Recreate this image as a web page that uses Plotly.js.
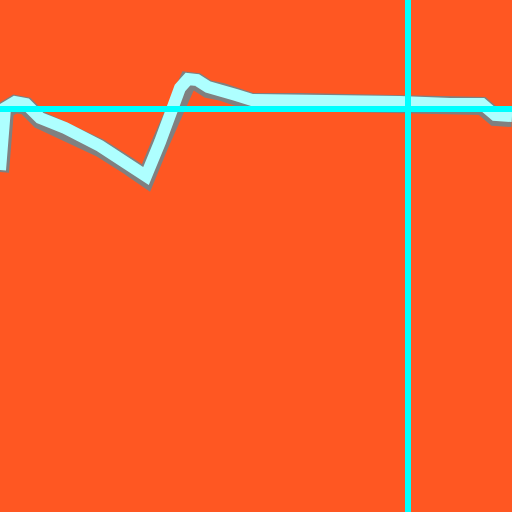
<!DOCTYPE html>
<html><head><meta charset="utf-8">
<script src="https://cdn.plot.ly/plotly-3.0.1.min.js"></script>
<style>html,body{margin:0;padding:0;background:#FF5722;}#chart{width:512px;height:512px;}</style>
</head><body><div id="chart"></div>
<script>
const xs = [0, 5, 15, 26, 40, 65, 100, 130, 146, 160, 170, 180, 188, 197, 208, 222, 236, 252, 300, 400, 450, 482, 495, 512];
const ys = [170, 108, 102, 104, 118, 128, 146, 165, 176, 142, 115, 88, 79, 80, 87, 90, 95, 100, 100, 102, 104, 104, 115, 116];
const hLineY = 109;
const vLineX = 408;

const traces = [
  {x: xs, y: ys.map(v => v + 2), mode: 'lines', line: {color: '#808080', width: 18}, hoverinfo: 'skip'},
  {x: xs, y: ys, mode: 'lines', line: {color: '#AEFFFF', width: 12}, hoverinfo: 'skip'}
];
const layout = {
  width: 512, height: 512,
  margin: {l: 0, r: 0, t: 0, b: 0},
  paper_bgcolor: '#FF5722', plot_bgcolor: '#FF5722',
  showlegend: false,
  xaxis: {range: [0, 512], visible: false, showgrid: false, zeroline: false},
  yaxis: {range: [512, 0], visible: false, showgrid: false, zeroline: false},
  shapes: [
    {type: 'line', xref: 'paper', x0: 0, x1: 1, yref: 'y', y0: hLineY, y1: hLineY, line: {color: '#00FFFF', width: 6}},
    {type: 'line', yref: 'paper', y0: 0, y1: 1, xref: 'x', x0: vLineX, x1: vLineX, line: {color: '#00FFFF', width: 6}}
  ]
};
Plotly.newPlot('chart', traces, layout, {staticPlot: true});
</script></body></html>
